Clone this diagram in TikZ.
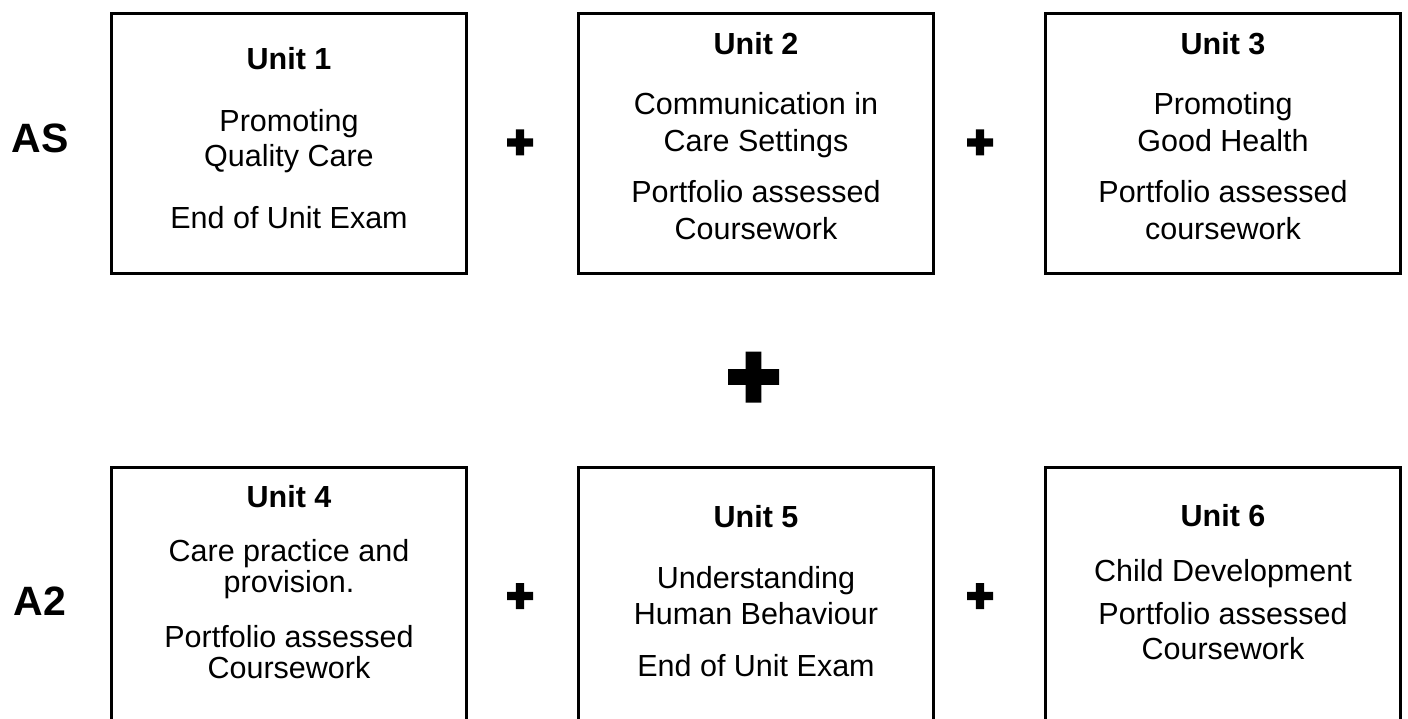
\documentclass[tikz,border=0pt]{standalone}
\usepackage{fontspec}
\setmainfont{Liberation Sans}
\usepackage{tikz}

\begin{document}
\begin{tikzpicture}[x=1pt,y=-1pt]

\tikzset{unit box/.style={draw,line width=3pt,minimum width=355pt,minimum height=260pt,inner sep=0pt},
         unit text/.style={align=center,inner sep=0pt,font=\fontsize{30.5}{#1}\selectfont},
         unit text/.default=35,
         level label/.style={anchor=base,inner sep=0pt,font=\bfseries\fontsize{41}{41}\selectfont},
         plus sign/.style={minimum size=#1,inner sep=0pt,
            path picture={\fill[shift={(path picture bounding box.center)}]
                (-#1/2,-0.155*#1) rectangle (#1/2,0.155*#1)
                (-0.155*#1,-#1/2) rectangle (0.155*#1,#1/2);}}}

\useasboundingbox (0,0) rectangle (1408,719);
\clip (0,0) rectangle (1408,719);

\node[level label] (as) at (40,153) {AS};
\node[level label] (a2) at (40,615) {A2};

\node[unit box] (box1) at (289,143.5) {};
\node[unit box] (box2) at (756,143.5) {};
\node[unit box] (box3) at (1223,143.5) {};
\node[unit box] (box4) at (289,597.5) {};
\node[unit box] (box5) at (756,597.5) {};
\node[unit box] (box6) at (1223,597.5) {};

\node[unit text=35] (text1) at ([yshift=5pt]box1.center)
    {\textbf{Unit 1}\\[27pt] Promoting\\Quality Care\\[27pt] End of Unit Exam};
\node[unit text=37] (text2) at ([yshift=7pt]box2.center)
    {\textbf{Unit 2}\\[23pt] Communication in\\Care Settings\\[14pt] Portfolio assessed\\Coursework};
\node[unit text=37] (text3) at ([yshift=7pt]box3.center)
    {\textbf{Unit 3}\\[23pt] Promoting\\Good Health\\[14pt] Portfolio assessed\\coursework};
\node[unit text=31] (text4) at ([yshift=15.5pt]box4.center)
    {\textbf{Unit 4}\\[23pt] Care practice and\\provision.\\[24pt] Portfolio assessed\\Coursework};
\node[unit text=36] (text5) at ([yshift=6.5pt]box5.center)
    {\textbf{Unit 5}\\[25pt] Understanding\\Human Behaviour\\[16pt] End of Unit Exam};
\node[unit text=35] (text6) at ([yshift=15pt]box6.center)
    {\textbf{Unit 6}\\[20pt] Child Development\\[8pt] Portfolio assessed\\Coursework};

\node[plus sign=26pt] (plus12) at (520,142.5) {};
\node[plus sign=26pt] (plus23) at (980,142.5) {};
\node[plus sign=26pt] (plus45) at (520,596) {};
\node[plus sign=26pt] (plus56) at (980,596) {};
\node[plus sign=51pt] (plusrows) at (753.5,377) {};

\end{tikzpicture}
\end{document}
